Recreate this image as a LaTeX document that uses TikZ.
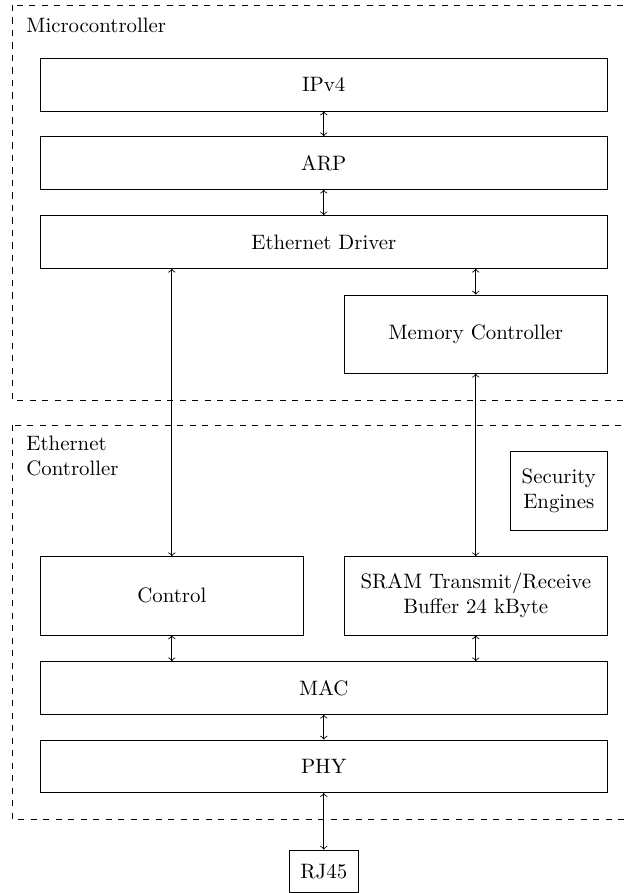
\documentclass[tikz,border=0pt]{standalone}
\begin{document}
\begin{tikzpicture}[x=0.48pt,y=-0.48pt,
  blk/.style={draw, inner sep=0pt, align=center},
  wide/.style={blk, minimum width=272.4pt, minimum height=25.3pt},
  half/.style={blk, minimum width=126.5pt, minimum height=37.6pt},
  grp/.style={draw, dashed},
  link/.style={<->}]
\clip (0,0) rectangle (625,893);
% groups
\draw[grp] (12,5) rectangle (660,400);
\draw[grp] (12,425) rectangle (660,819);
\node[anchor=west, inner sep=0pt] (lmc) at (26,25) {Microcontroller};
\node[anchor=west, inner sep=0pt, align=left] (lec) at (26,456) {Ethernet\\Controller};
% blocks
\node[wide] (ipv4) at (323.75,84.7) {IPv4};
\node[wide] (arp) at (323.75,163) {ARP};
\node[wide] (drv) at (323.75,242) {Ethernet Driver};
\node[half] (mem) at (475.75,334.2) {Memory Controller};
\node[blk, minimum width=46.8pt, minimum height=37.6pt] (sec) at (558.75,490.8) {Security\\Engines};
\node[half] (ctrl) at (171.8,595.8) {Control};
\node[half] (sram) at (475.75,595.8) {SRAM Transmit/Receive\\Buffer 24 kByte};
\node[wide] (mac) at (323.75,688) {MAC};
\node[wide] (phy) at (323.75,766.3) {PHY};
\node[blk, minimum width=33.4pt, minimum height=20.3pt] (rj) at (323.75,871.2) {RJ45};
% links
\draw[link] (ipv4) -- (arp);
\draw[link] (arp) -- (drv);
\draw[link] (drv.south -| mem.north) -- (mem.north);
\draw[link] (drv.south -| ctrl.north) -- (ctrl.north);
\draw[link] (mem.south) -- (sram.north);
\draw[link] (ctrl.south) -- (mac.north -| ctrl.south);
\draw[link] (sram.south) -- (mac.north -| sram.south);
\draw[link] (mac) -- (phy);
\draw[link] (phy) -- (rj);
\end{tikzpicture}
\end{document}
